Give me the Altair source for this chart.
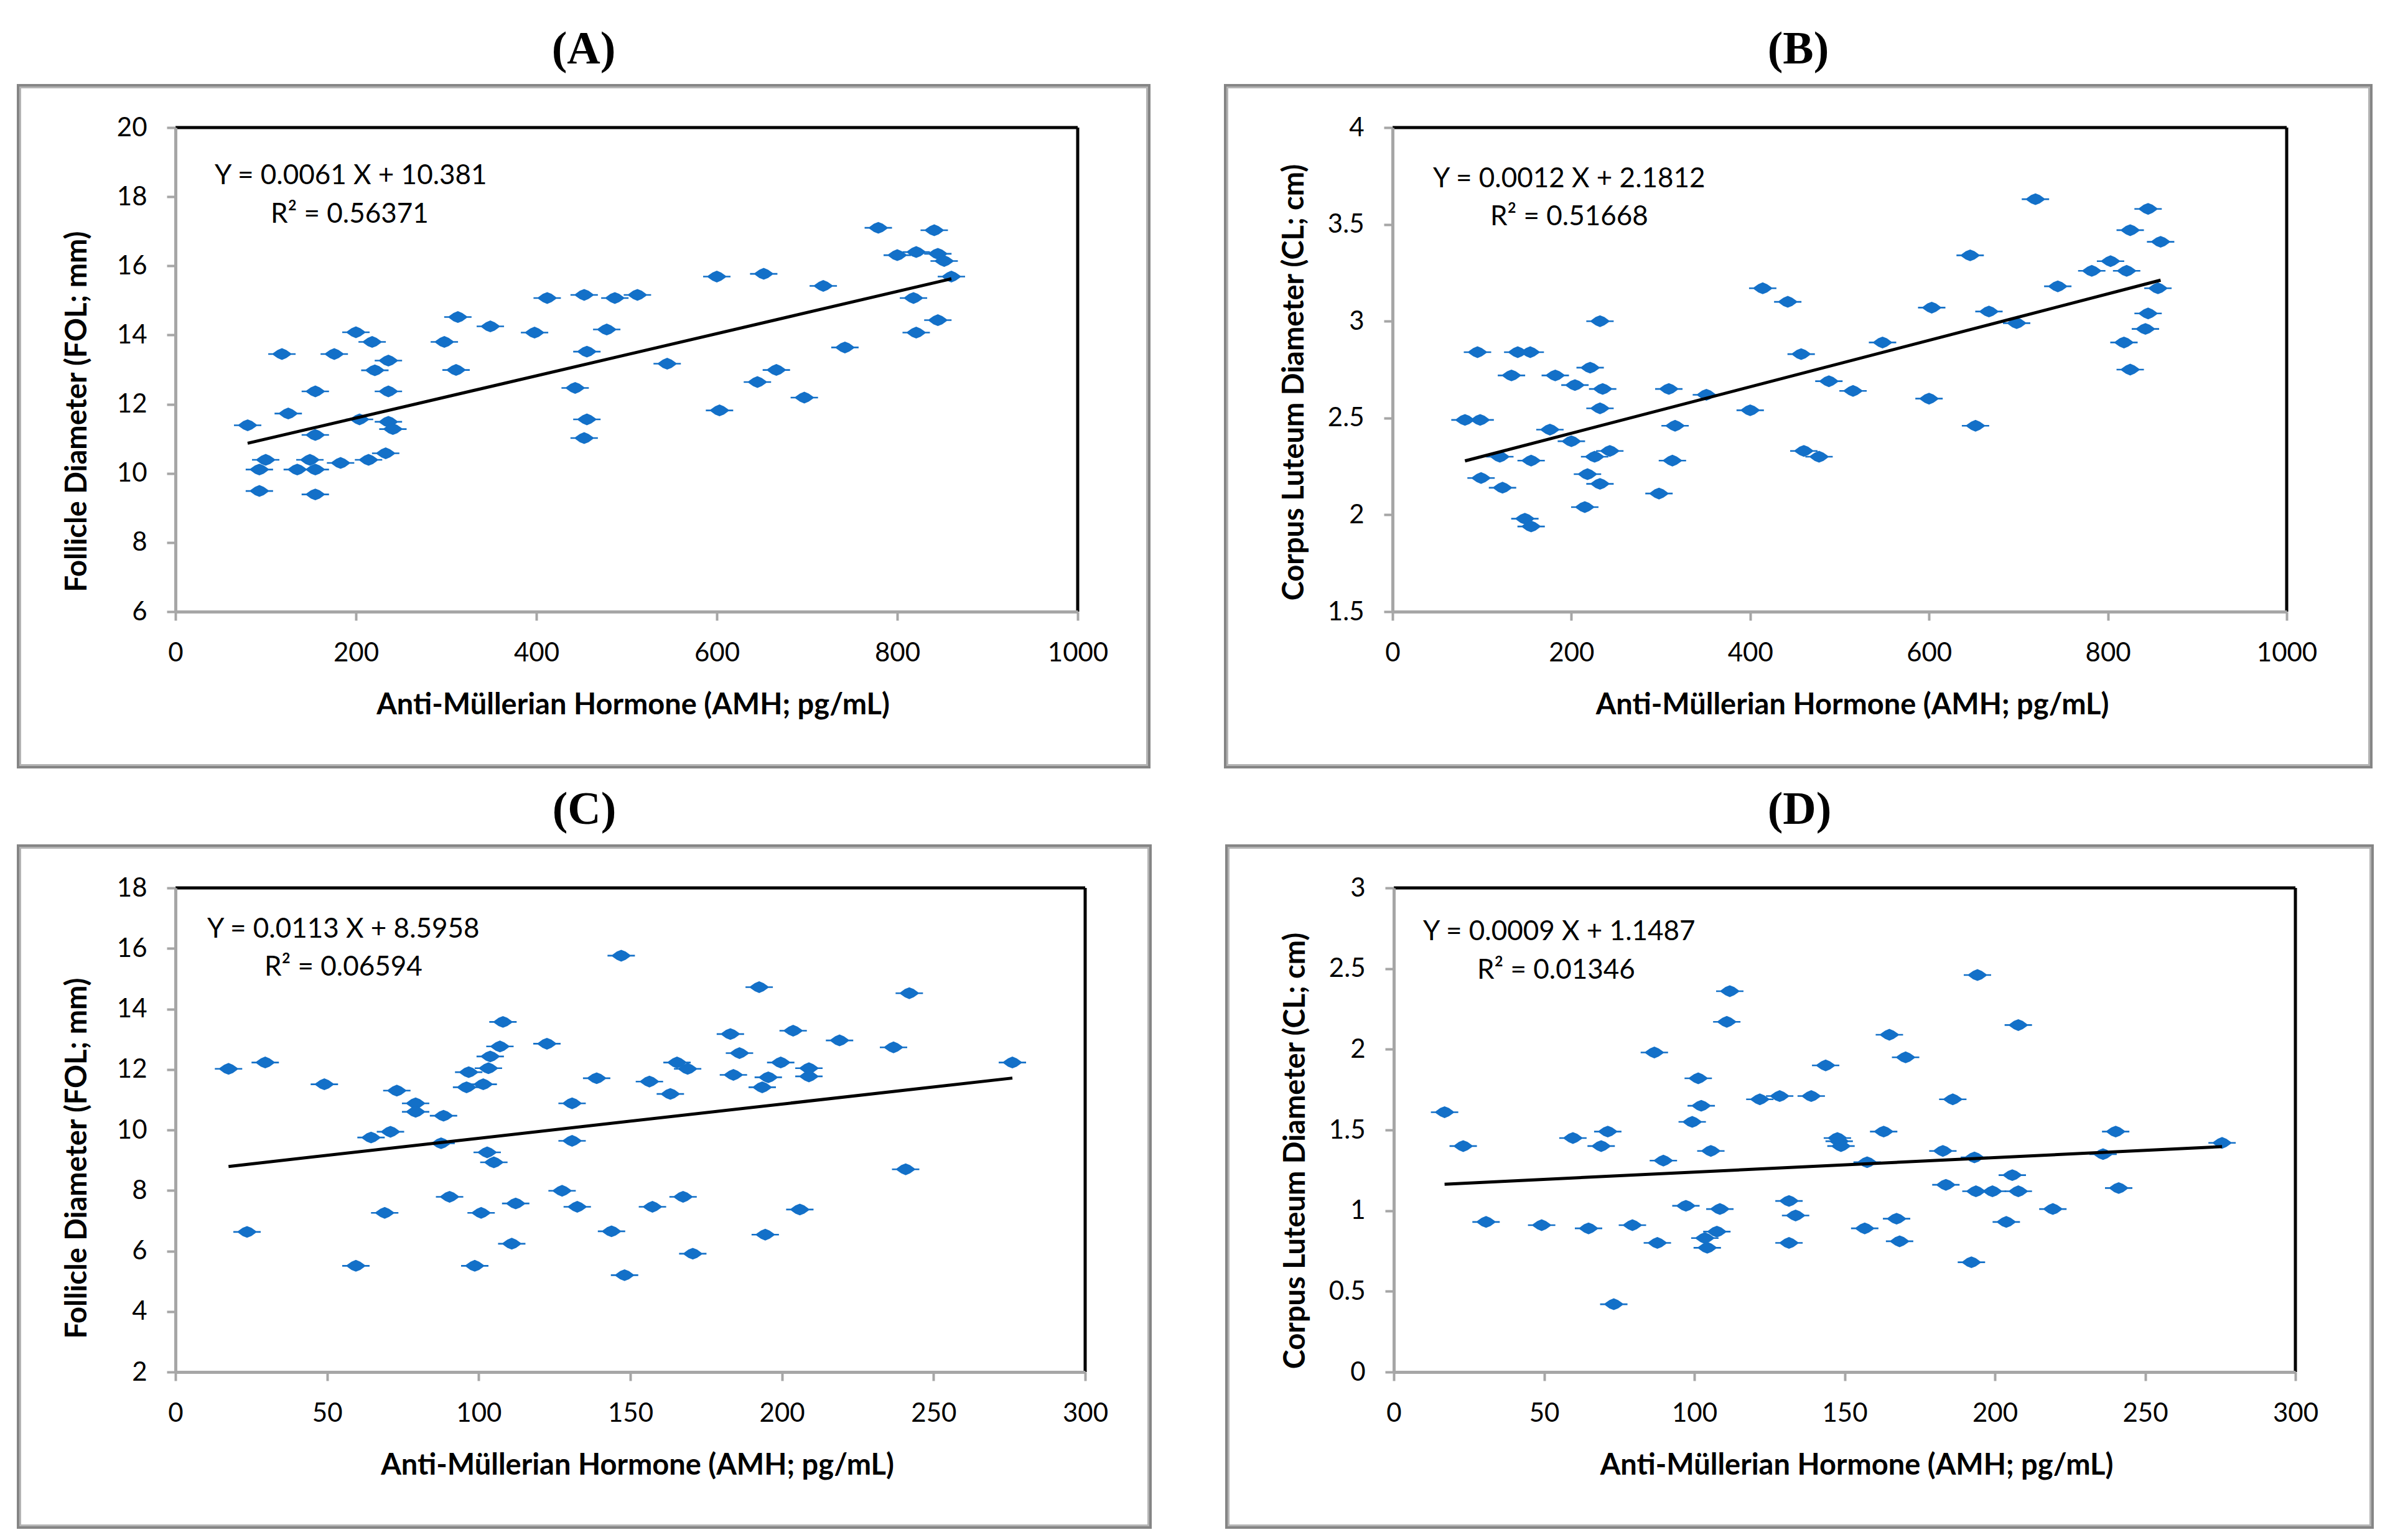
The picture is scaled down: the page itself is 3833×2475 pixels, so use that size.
import altair as alt
import pandas as pd

# ---------------- data ----------------
A_x = [80, 118, 176, 200, 218, 236, 221, 155, 236, 125, 204, 236, 241, 155, 100, 149, 93, 135, 155, 183,
       214, 233, 93, 155, 298, 313, 311, 349, 398, 412, 453, 487, 512, 478, 456, 443, 456, 453, 600, 652,
       718, 545, 603, 645, 666, 697, 742, 779, 841, 800, 821, 845, 852, 860, 818, 845, 821]
A_y = [11.39, 13.45, 13.45, 14.08, 13.8, 13.26, 12.98, 12.37, 12.37, 11.73, 11.56, 11.49, 11.28, 11.11, 10.39,
       10.39, 10.11, 10.11, 10.11, 10.3, 10.39, 10.58, 9.49, 9.39, 13.8, 14.52, 12.99, 14.25, 14.07, 15.07,
       15.16, 15.07, 15.16, 14.16, 13.52, 12.47, 11.56, 11.02, 15.69, 15.77, 15.42, 13.17, 11.82, 12.64,
       12.99, 12.19, 13.64, 17.1, 17.03, 16.31, 16.4, 16.35, 16.14, 15.69, 15.07, 14.43, 14.07]

B_x = [81, 98, 95, 154, 140, 133, 182, 221, 232, 204, 235, 232, 176, 200, 120, 155, 243, 226, 99, 123,
       218, 232, 215, 148, 155, 309, 316, 313, 298, 351, 400, 414, 442, 457, 460, 477, 488, 515, 548, 603,
       600, 646, 667, 652, 698, 719, 744, 782, 803, 821, 825, 845, 859, 856, 845, 842, 818, 825]
B_y = [2.49, 2.49, 2.84, 2.84, 2.84, 2.72, 2.72, 2.76, 3.0, 2.67, 2.65, 2.55, 2.44, 2.38, 2.30, 2.28, 2.33,
       2.30, 2.19, 2.14, 2.21, 2.16, 2.04, 1.98, 1.94, 2.65, 2.46, 2.28, 2.11, 2.62, 2.54, 3.17, 3.10, 2.83,
       2.33, 2.30, 2.69, 2.64, 2.89, 3.07, 2.60, 3.34, 3.05, 2.46, 2.99, 3.63, 3.18, 3.26, 3.31, 3.26, 3.47,
       3.58, 3.41, 3.17, 3.04, 2.96, 2.89, 2.75]

C_x = [17.5, 29.6, 49.1, 73, 79.2, 79.2, 88.4, 64.5, 70.9, 87.6, 96.7, 96, 101.5, 103.2, 103.8, 107, 108,
       122.5, 130.8, 130.8, 102.8, 105, 138.9, 147, 90.4, 69, 23.6, 100.8, 112.2, 127.5, 132.5, 110.9, 143.8,
       59.5, 98.7, 148.1, 192.5, 242, 183, 203.7, 219, 236.8, 276, 186, 165.4, 168.9, 199.6, 208.9, 208.9,
       184, 195.5, 193.5, 156.3, 163.2, 240.8, 167.4, 157.3, 205.9, 194.5, 170.6]
C_y = [12.02, 12.23, 11.51, 11.30, 10.88, 10.6, 10.47, 9.75, 9.94, 9.56, 11.91, 11.41, 11.51, 12.04, 12.43,
       12.76, 13.57, 12.85, 10.88, 9.64, 9.26, 8.93, 11.71, 15.76, 7.79, 7.26, 6.63, 7.26, 7.57, 7.99, 7.46,
       6.24, 6.65, 5.51, 5.51, 5.20, 14.72, 14.52, 13.17, 13.28, 12.96, 12.73, 12.23, 12.54, 12.23, 12.02,
       12.23, 12.04, 11.77, 11.82, 11.74, 11.41, 11.60, 11.19, 8.70, 7.79, 7.46, 7.37, 6.54, 5.91]

D_x = [16.9, 23.1, 30.7, 49.2, 59.6, 71.2, 69, 64.8, 73.2, 79.4, 86.7, 89.7, 87.7, 101.3, 102.3, 99.3, 105.5,
       97.2, 108.5, 107.5, 104.3, 103.5, 111.8, 110.8, 121.8, 128.4, 138.9, 143.7, 148.2, 148.8, 147.6, 131.5,
       133.7, 131.5, 194.2, 207.8, 164.9, 170.3, 186, 163, 240.2, 275.6, 182.7, 193.2, 236, 157.5, 205.8,
       183.7, 199.2, 207.8, 193.7, 241.2, 219.3, 167.3, 156.7, 203.8, 168.3, 192.2]
D_y = [1.61, 1.40, 0.93, 0.91, 1.45, 1.49, 1.40, 0.89, 0.42, 0.91, 1.98, 1.31, 0.80, 1.82, 1.65, 1.55, 1.37,
       1.03, 1.01, 0.87, 0.77, 0.83, 2.36, 2.17, 1.69, 1.71, 1.71, 1.90, 1.43, 1.40, 1.45, 1.06, 0.97, 0.80,
       2.46, 2.15, 2.09, 1.95, 1.69, 1.49, 1.49, 1.42, 1.37, 1.33, 1.35, 1.30, 1.22, 1.16, 1.12, 1.12, 1.12,
       1.14, 1.01, 0.95, 0.89, 0.93, 0.81, 0.68]

# trend-line equations as printed on the panels
A_fit = (0.0061, 10.381)
B_fit = (0.0012, 2.1812)
C_fit = (0.0113, 8.5958)
D_fit = (0.0009, 1.1487)

A_eq = ["Y = 0.0061 X + 10.381", "R\u00b2 = 0.56371"]
B_eq = ["Y = 0.0012 X + 2.1812", "R\u00b2 = 0.51668"]
C_eq = ["Y = 0.0113 X + 8.5958", "R\u00b2 = 0.06594"]
D_eq = ["Y = 0.0009 X + 1.1487", "R\u00b2 = 0.01346"]

X_TITLE = "Anti-M\u00fcllerian Hormone (AMH; pg/mL)"
FOL_TITLE = "Follicle Diameter (FOL; mm)"
CL_TITLE = "Corpus Luteum Diameter (CL; cm)"

AB_xticks = [0, 200, 400, 600, 800, 1000]
CD_xticks = [0, 50, 100, 150, 200, 250, 300]
A_yticks = [6, 8, 10, 12, 14, 16, 18, 20]
B_yticks = [1.5, 2, 2.5, 3, 3.5, 4]
C_yticks = [2, 4, 6, 8, 10, 12, 14, 16, 18]
D_yticks = [0, 0.5, 1, 1.5, 2, 2.5, 3]

# ---------------- styling ----------------
BLUE = "#1370c8"
AXIS_GRAY = "#a6a6a6"
FONT = "Lato"
DIAMOND = ("M-0.74,0L-0.32,-0.3L0,-0.43L0.32,-0.3L0.74,0L0.32,0.3L0,0.43L-0.32,0.3Z "
           "M-1,-0.06L1,-0.06L1,0.06L-1,0.06Z")
H = 778


def one():
    return alt.Data(values=[{"k": 0}])


def panel(label, xs, ys, fit, eq, xticks, yticks, ytitle, W, fl, fr, ytshift, xtshift, tx, ty):
    df = pd.DataFrame({"x": xs, "y": ys})
    xdom = [xticks[0], xticks[-1]]
    ydom = [yticks[0], yticks[-1]]
    xa = alt.Axis(values=xticks, format="~r", title=X_TITLE, grid=False,
                  domainColor=AXIS_GRAY, domainWidth=5, tickColor=AXIS_GRAY, tickWidth=4, tickSize=14,
                  labelFont=FONT, labelFontSize=42, labelColor="black", labelBaseline="middle",
                  labelPadding=52, labelFlush=False, labelOverlap=False,
                  titleFont=FONT, titleFontSize=47, titleFontWeight="bold", titleColor="black",
                  titleX=W / 2 + xtshift, titleY=150, titleBaseline="middle", titleAlign="center", zindex=1)
    ya = alt.Axis(values=yticks, format="~r", title=ytitle, grid=False,
                  domainColor=AXIS_GRAY, domainWidth=5, tickColor=AXIS_GRAY, tickWidth=4, tickSize=14,
                  labelFont=FONT, labelFontSize=42, labelColor="black", labelPadding=32,
                  labelFlush=False, labelOverlap=False,
                  titleFont=FONT, titleFontSize=47, titleFontWeight="bold", titleColor="black",
                  titleAngle=270, titleX=-158, titleY=H / 2 + ytshift, titleBaseline="middle",
                  titleAlign="center", zindex=1)
    xs_ = alt.Scale(domain=xdom, nice=False, zero=False)
    ys_ = alt.Scale(domain=ydom, nice=False, zero=False)

    pts = alt.Chart(df).mark_point(filled=True, shape=DIAMOND, size=1936, color=BLUE, opacity=1).encode(
        x=alt.X("x:Q", scale=xs_, axis=xa), y=alt.Y("y:Q", scale=ys_, axis=ya))

    x0, x1 = min(xs), max(xs)
    fdf = pd.DataFrame({"x": [x0, x1], "y": [fit[0] * x0 + fit[1], fit[0] * x1 + fit[1]]})
    fitline = alt.Chart(fdf).mark_line(color="black", strokeWidth=5).encode(x="x:Q", y="y:Q")

    top = alt.Chart(one()).mark_rule(color="black", strokeWidth=5).encode(
        x=alt.value(0), x2=alt.value(W), y=alt.value(0))
    right = alt.Chart(one()).mark_rule(color="black", strokeWidth=5).encode(
        x=alt.value(W), y=alt.value(0), y2=alt.value(H))

    ftop, fbot = -68, H + 250
    outer = alt.Chart(one()).mark_rect(fillOpacity=0, stroke="#858585", strokeWidth=4).encode(
        x=alt.value(fl), x2=alt.value(W + fr), y=alt.value(ftop), y2=alt.value(fbot))
    inner = alt.Chart(one()).mark_rect(fillOpacity=0, stroke="#b4b4b4", strokeWidth=3).encode(
        x=alt.value(fl + 3.5), x2=alt.value(W + fr - 3.5), y=alt.value(ftop + 3.5), y2=alt.value(fbot - 3.5))

    t1 = alt.Chart(one()).mark_text(font=FONT, fontSize=44, align="left", baseline="middle", color="black",
                                    text=eq[0]).encode(x=alt.value(tx[0]), y=alt.value(ty[0]))
    t2 = alt.Chart(one()).mark_text(font=FONT, fontSize=44, align="left", baseline="middle", color="black",
                                    text=eq[1]).encode(x=alt.value(tx[1]), y=alt.value(ty[1]))
    ttl = alt.Chart(one()).mark_text(font="Liberation Serif", fontSize=74, fontWeight="bold", align="center",
                                     baseline="middle", color="black", text=label).encode(
        x=alt.value((fl + W + fr) / 2), y=alt.value(-125))

    return alt.layer(outer, inner, pts, fitline, top, right, t1, t2, ttl).properties(width=W, height=H)


pA = panel("(A)", A_x, A_y, A_fit, A_eq, AB_xticks, A_yticks, FOL_TITLE, 1450, -253, 115, 67, 10,
           (63, 153), (78, 140))
pB = panel("(B)", B_x, B_y, B_fit, B_eq, AB_xticks, B_yticks, CL_TITLE, 1437, -269, 136, 20, 20,
           (65, 157), (83, 144))
pC = panel("(C)", C_x, C_y, C_fit, C_eq, CD_xticks, C_yticks, FOL_TITLE, 1462, -253, 105, 45, 11,
           (51, 143), (67, 128))
pD = panel("(D)", D_x, D_y, D_fit, D_eq, CD_xticks, D_yticks, CL_TITLE, 1449, -269, 124, 33, 19,
           (47, 134), (71, 133))

row1 = alt.hconcat(pA, pB, spacing=116)
row2 = alt.hconcat(pC, pD, spacing=116)
chart = alt.vconcat(row1, row2, spacing=28).properties(
    padding={"left": 18, "top": 34, "right": 5, "bottom": 5}
).configure_view(stroke=None).configure(font=FONT)

chart.save("out.html", embed_options={"renderer": "svg", "actions": False})
